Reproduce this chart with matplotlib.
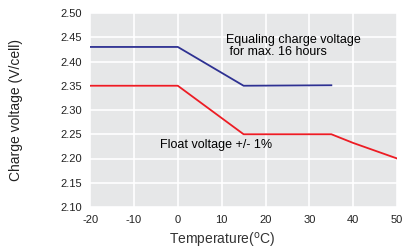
import matplotlib
matplotlib.use("Agg")
import matplotlib.pyplot as plt

plt.rcParams['font.family'] = ['Liberation Sans', 'DejaVu Sans']

eq_temp = [-20, 0, 15, 35]
eq_volt = [2.43, 2.43, 2.35, 2.351]
fl_temp = [-20, 0, 15, 35, 40, 50]
fl_volt = [2.35, 2.35, 2.25, 2.25, 2.232, 2.20]
xticks = [-20, -10, 0, 10, 20, 30, 40, 50]
yticks = [2.10, 2.15, 2.20, 2.25, 2.30, 2.35, 2.40, 2.45, 2.50]

fig = plt.figure(figsize=(4.04, 2.5), dpi=100)
ax = fig.add_axes([0.223, 0.172, 0.760, 0.776])
ax.set_facecolor('#e6e7e8')
ax.plot(eq_temp, eq_volt, color='#2e3192', lw=1.3)
ax.plot(fl_temp, fl_volt, color='#ed1c24', lw=1.3)
ax.set_xlim(-20, 50)
ax.set_ylim(2.10, 2.50)
ax.set_xticks(xticks)
ax.set_yticks(yticks)
ax.set_xticklabels([str(t) for t in xticks])
ax.set_yticklabels([f"{t:.2f}" for t in yticks])
ax.grid(True, color='white', lw=1.2)
ax.set_axisbelow(True)
for s in ax.spines.values():
    s.set_visible(False)
ax.tick_params(length=0, labelsize=8, colors='#222222', pad=6)
ax.set_xlabel('Temperature($^{\\rm o}$C)', fontsize=10, color='#333333')
ax.xaxis.set_label_coords(0.43, -0.125)
ax.set_ylabel('Charge voltage (V/cell)', fontsize=10, color='#222222')
ax.yaxis.set_label_coords(-0.218, 0.5)
ax.text(11, 2.457, 'Equaling charge voltage\n for max. 16 hours', fontsize=9,
        va='top', ha='left', linespacing=1.05)
ax.text(-4, 2.227, 'Float voltage +/- 1%', fontsize=9, va='center', ha='left')
fig.savefig('out.png', dpi=100)
